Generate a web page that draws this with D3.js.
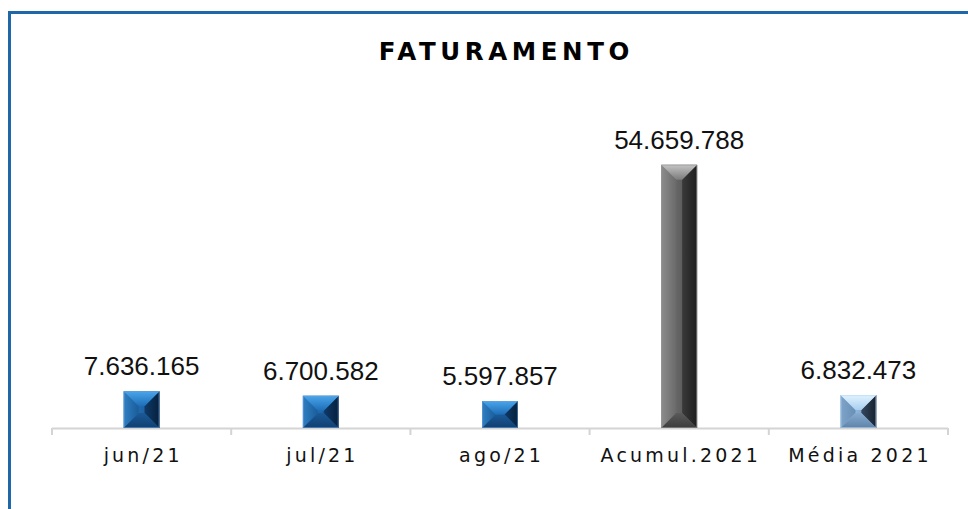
<!DOCTYPE html>
<html><head><meta charset="utf-8">
<script src="https://cdn.jsdelivr.net/npm/d3@7"></script>
<style>
html,body{margin:0;padding:0;background:#fff;}
svg{display:block;}
</style></head>
<body>
<script>
const categories = ["jun/21", "jul/21", "ago/21", "Acumul.2021", "Média 2021"];
const values = [7636165, 6700582, 5597857, 54659788, 6832473];
const valueLabels = ["7.636.165", "6.700.582", "5.597.857", "54.659.788", "6.832.473"];
const barStyles = ["blue", "blue", "blue", "gray", "light"];
const title = "FATURAMENTO";

const W = 968, H = 509;
const svg = d3.select("body").append("svg").attr("width", W).attr("height", H);
const FONT = "'Century Gothic','URW Gothic','Liberation Sans',sans-serif";
const CFONT = "'Century Gothic','URW Gothic','DejaVu Sans',sans-serif";

const pal = {
  blue:  {top:["#4aa6ea","#1d6db6"], left:["#2f7fc2","#1a5c9a"], right:["#0f3a68","#06203c"], bottom:["#1a5a98","#123f70"], front:["#2a7cc4","#154f8c"], edge:"#6a9fd6"},
  gray:  {top:["#c4c4c4","#7c7c7c"], left:["#8c8c8c","#6a6a6a"], right:["#3a3a3a","#1e1e1e"], bottom:["#5a5a5a","#3c3c3c"], front:["#7a7a7a","#4a4a4a"], edge:"#9a9a9a"},
  light: {top:["#e2f3ff","#a6cdf0"], left:["#7da4ca","#6a8fb5"], right:["#34465e","#17212e"], bottom:["#86acd2","#5f83a8"], front:["#a8cdf0","#6f95bb"], edge:"#b6d4f0"}
};

const defs = svg.append("defs");
Object.entries(pal).forEach(([k,p]) => {
  ["top","left","right","bottom","front"].forEach(f => {
    const horiz = (f==="front"||f==="left"||f==="right");
    const g = defs.append("linearGradient").attr("id", `g-${k}-${f}`)
      .attr("x1", 0).attr("y1", 0).attr("x2", horiz?1:0).attr("y2", horiz?0:1);
    g.append("stop").attr("offset","0%").attr("stop-color", p[f][0]);
    g.append("stop").attr("offset","100%").attr("stop-color", p[f][1]);
  });
});

// frame (left and top)
svg.append("line").attr("x1", 9.5).attr("x2", 9.5).attr("y1", 11).attr("y2", H).attr("stroke", "#1f68a8").attr("stroke-width", 3);
svg.append("line").attr("x1", 8).attr("x2", W).attr("y1", 12.5).attr("y2", 12.5).attr("stroke", "#1f68a8").attr("stroke-width", 3);

// title
const ls = 4.6;
svg.append("text").attr("x", 504 + ls/2).attr("y", 60).attr("text-anchor", "middle")
  .attr("font-family", CFONT).attr("font-weight", "bold").attr("font-size", 24.5)
  .attr("letter-spacing", ls).attr("fill", "#000").text(title);

const x = d3.scaleBand().domain(categories).range([52, 948]).paddingInner(0).paddingOuter(0);
const y = d3.scaleLinear().domain([0, 60000000]).range([428, 139]);

// axis line + boundary ticks
const ax = svg.append("g");
ax.append("line").attr("x1", x.range()[0]).attr("x2", x.range()[1]).attr("y1", 428.5).attr("y2", 428.5)
  .attr("stroke", "#d4d4d4").attr("stroke-width", 2);
const bounds = categories.map(c => x(c)).concat([x.range()[1]]);
ax.selectAll("line.tk").data(bounds).join("line").attr("class","tk")
  .attr("x1", d => d).attr("x2", d => d).attr("y1", 428).attr("y2", 435)
  .attr("stroke", "#d4d4d4").attr("stroke-width", 2);

// category labels via d3 axis
const catLS = 3.2;
const xAxis = d3.axisBottom(x).tickSize(0).tickPadding(0);
const gx = svg.append("g").attr("transform", "translate(0,447)").call(xAxis);
gx.select(".domain").remove();
gx.selectAll("text").attr("font-family", CFONT).attr("font-size", 19).attr("fill", "#111")
  .attr("letter-spacing", catLS).attr("dy", "0.78em").attr("dx", catLS/2);

// bars with bevel
const bw = x.bandwidth() * 0.2;
const data = categories.map((c, i) => ({c, v: values[i], lab: valueLabels[i], s: barStyles[i]}));
const bars = svg.append("g");
data.forEach(d => {
  const cx = x(d.c) + x.bandwidth()/2;
  const x0 = cx - bw/2, x1 = cx + bw/2, y0 = y(d.v), y1 = y(0);
  const dd = Math.min(15, (x1-x0)/2 - 1, (y1-y0)/2);
  const g = bars.append("g");
  const poly = (pts, f) => g.append("polygon").attr("points", pts.map(p => p.join(",")).join(" ")).attr("fill", `url(#g-${d.s}-${f})`);
  g.append("rect").attr("x", x0).attr("y", y0).attr("width", x1-x0).attr("height", y1-y0).attr("fill", `url(#g-${d.s}-front)`);
  poly([[x0,y0],[x0+dd,y0+dd],[x0+dd,y1-dd],[x0,y1]], "left");
  poly([[x1,y0],[x1-dd,y0+dd],[x1-dd,y1-dd],[x1,y1]], "right");
  poly([[x0,y1],[x0+dd,y1-dd],[x1-dd,y1-dd],[x1,y1]], "bottom");
  poly([[x0,y0],[x1,y0],[x1-dd,y0+dd],[x0+dd,y0+dd]], "top");
  g.append("rect").attr("x", x0+0.5).attr("y", y0+0.5).attr("width", x1-x0-1).attr("height", y1-y0-1)
    .attr("fill", "none").attr("stroke", pal[d.s].edge).attr("stroke-width", 1).attr("stroke-opacity", 0.6);
  svg.append("text").attr("x", cx).attr("y", y0 - 16).attr("text-anchor", "middle")
    .attr("font-family", FONT).attr("font-size", 26).attr("fill", "#111").text(d.lab);
});
</script>
</body></html>
